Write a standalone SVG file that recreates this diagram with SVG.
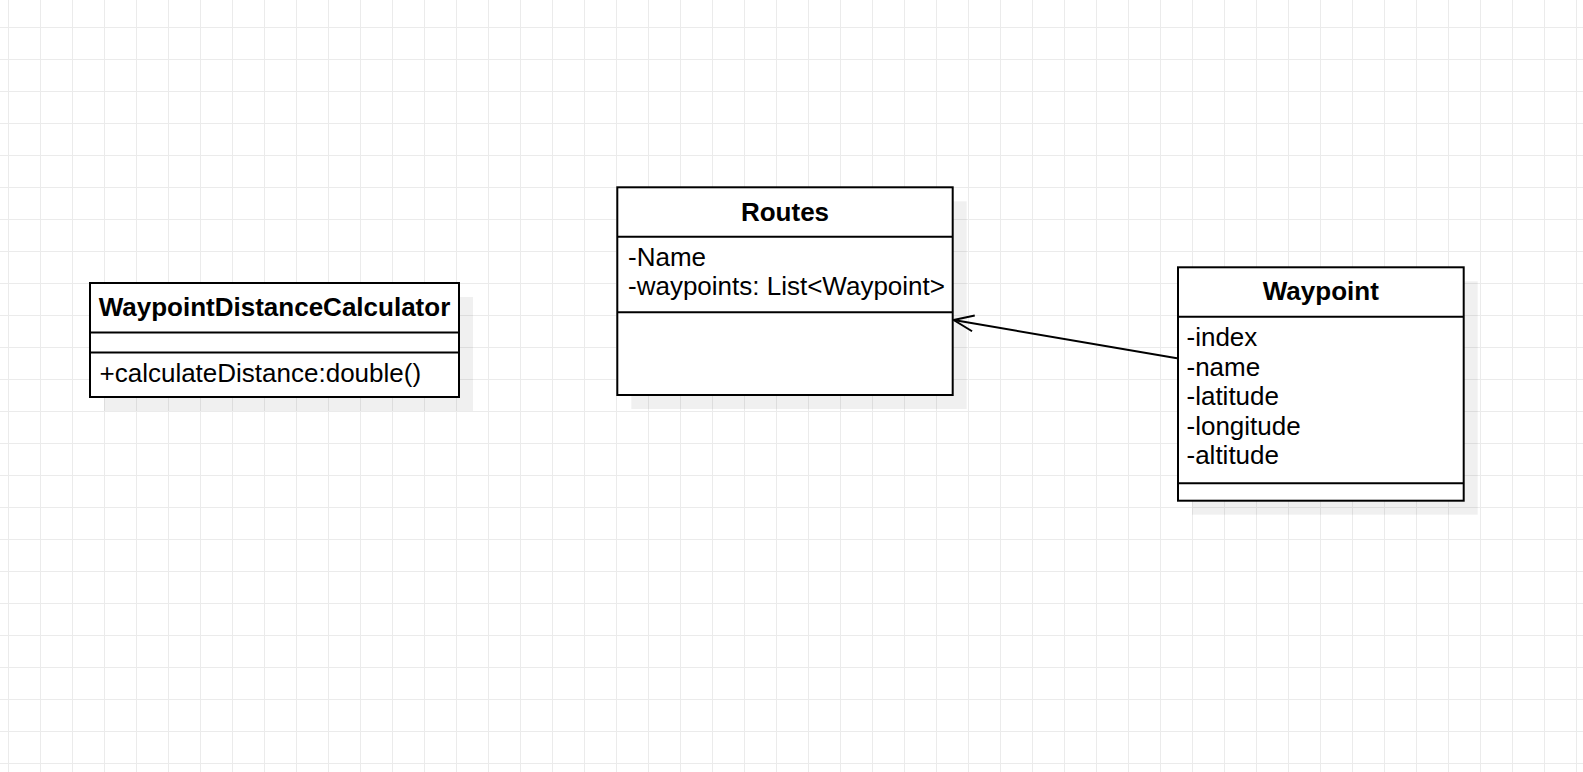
<svg xmlns="http://www.w3.org/2000/svg" width="1583" height="772" viewBox="0 0 1583 772">
  <style>
    .box { fill: #ffffff; stroke: #000000; stroke-width: 2; }
    .shadow { fill: #000000; fill-opacity: 0.06; }
    .div { stroke: #000000; stroke-width: 2; }
    .title { font-family: "Liberation Sans", Arial, sans-serif; font-size: 26px; font-weight: bold; text-anchor: middle; fill: #000000; }
    .attr { font-family: "Liberation Sans", Arial, sans-serif; font-size: 26px; fill: #000000; }
    .edge { stroke: #000000; stroke-width: 2; fill: none; }
  </style>
  <defs>
    <pattern id="grid" x="8" y="27" width="32" height="32" patternUnits="userSpaceOnUse">
      <path d="M0 0.5 H32 M0.5 0 V32" stroke="#ebebeb" stroke-width="1" fill="none"/>
    </pattern>
    <marker id="openArrow" markerUnits="userSpaceOnUse" viewBox="-24 -12 26 24" markerWidth="26" markerHeight="24" refX="0" refY="0" orient="auto">
      <path d="M-20,-8 L0,0 L-20,8" fill="none" stroke="#000000" stroke-width="2"/>
    </marker>
  </defs>
  <rect x="0" y="0" width="1583" height="772" fill="#ffffff"/>
  <rect x="0" y="0" width="1583" height="772" fill="url(#grid)"/>

  <g id="connectors">
    <line class="edge" x1="1177" y1="358.3" x2="953.7" y2="320" marker-end="url(#openArrow)"/>
  </g>

  <g id="node-waypointdistancecalculator">
    <rect class="shadow" x="104" y="297" width="369" height="114"/>
    <rect class="box" x="90" y="283" width="369" height="114"/>
    <line class="div" x1="90" y1="332.5" x2="459" y2="332.5"/>
    <line class="div" x1="90" y1="352.5" x2="459" y2="352.5"/>
    <text class="title" x="274.5" y="315.5">WaypointDistanceCalculator</text>
    <text class="attr" x="99.5" y="381.7">+calculateDistance:double()</text>
  </g>

  <g id="node-routes">
    <rect class="shadow" x="631.3" y="201.3" width="335.4" height="207.7"/>
    <rect class="box" x="617.3" y="187.3" width="335.4" height="207.7"/>
    <line class="div" x1="617.3" y1="236.7" x2="952.7" y2="236.7"/>
    <line class="div" x1="617.3" y1="312.3" x2="952.7" y2="312.3"/>
    <text class="title" x="785" y="220.7">Routes</text>
    <text class="attr" x="628" y="265.7">-Name</text>
    <text class="attr" x="628" y="295.2">-waypoints: List&lt;Waypoint&gt;</text>
  </g>

  <g id="node-waypoint">
    <rect class="shadow" x="1192" y="281.3" width="285.7" height="233.4"/>
    <rect class="box" x="1178" y="267.3" width="285.7" height="233.4"/>
    <line class="div" x1="1178" y1="316.7" x2="1463.7" y2="316.7"/>
    <line class="div" x1="1178" y1="483.3" x2="1463.7" y2="483.3"/>
    <text class="title" x="1320.8" y="300">Waypoint</text>
    <text class="attr" x="1186.5" y="346">-index</text>
    <text class="attr" x="1186.5" y="375.5">-name</text>
    <text class="attr" x="1186.5" y="405">-latitude</text>
    <text class="attr" x="1186.5" y="434.5">-longitude</text>
    <text class="attr" x="1186.5" y="464">-altitude</text>
  </g>
</svg>
